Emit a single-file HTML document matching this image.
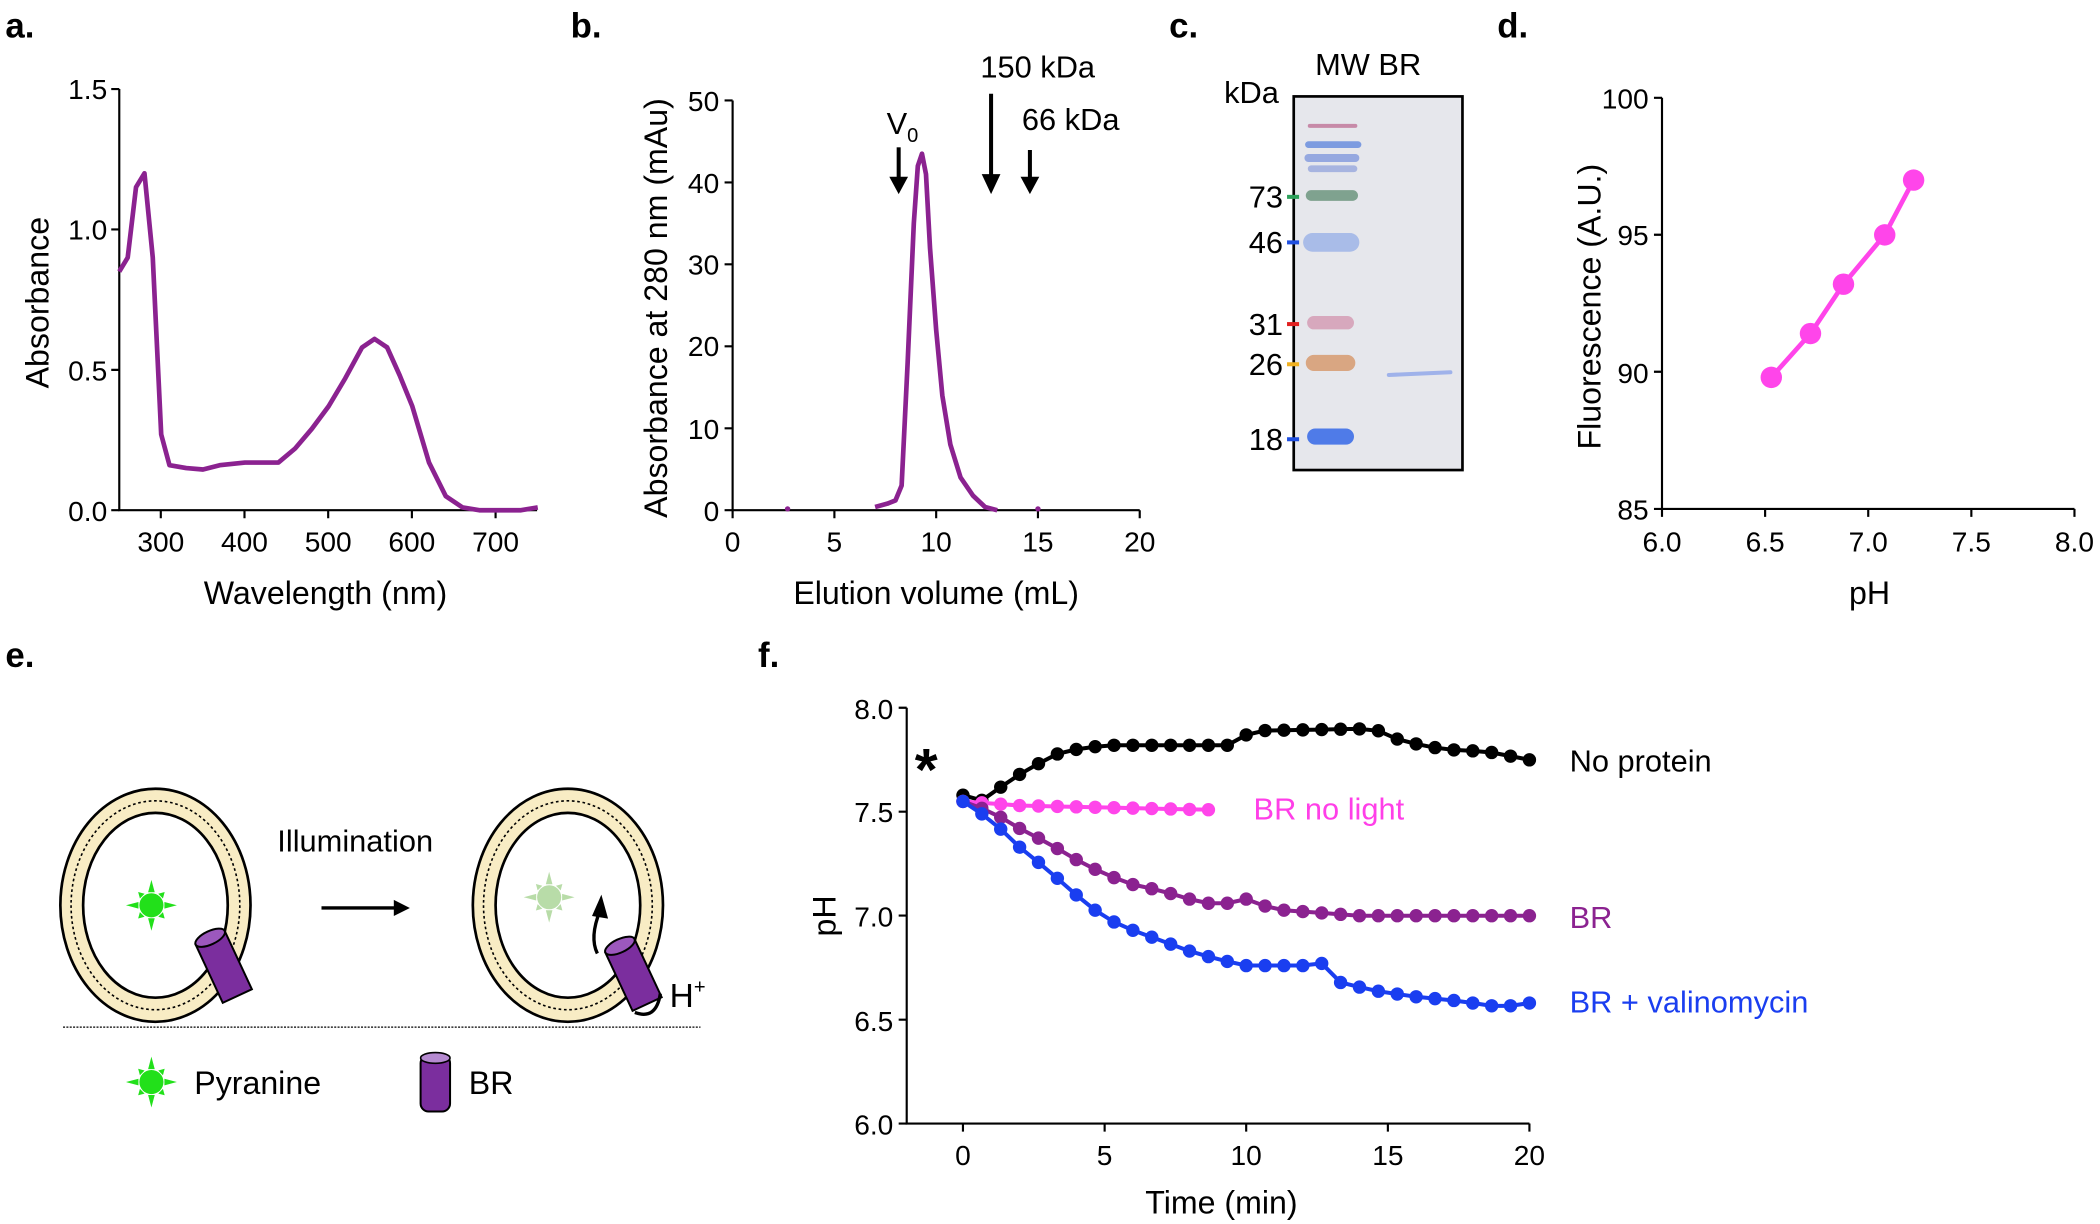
<!DOCTYPE html>
<html><head><meta charset="utf-8"><style>
html,body{margin:0;padding:0;background:#fff;}
svg{display:block;font-family:"Liberation Sans",Arial,sans-serif;}
</style></head><body>
<svg id="s" width="2100" height="1224" viewBox="0 0 1568 914" xmlns="http://www.w3.org/2000/svg">
<rect width="1568" height="914" fill="#fff"/>
<g font-weight="bold" font-size="26" fill="#000">
<text x="4" y="28">a.</text><text x="426" y="28">b.</text><text x="873" y="28">c.</text><text x="1118" y="28">d.</text>
<text x="4" y="498">e.</text><text x="566" y="498">f.</text>
</g>
<!-- panel a -->
<g stroke="#000" stroke-width="1.6" fill="none">
<path d="M89 66.5V381H401"/>
<path d="M83 66.5H89M83 171.3H89M83 276.2H89M83 381H89"/>
<path d="M120 381v6M182.5 381v6M245 381v6M307.5 381v6M370 381v6"/>
</g>
<g font-size="21" text-anchor="end">
<text x="80" y="74">1.5</text><text x="80" y="179">1.0</text><text x="80" y="284">0.5</text><text x="80" y="389">0.0</text>
</g>
<g font-size="21" text-anchor="middle">
<text x="120" y="412">300</text><text x="182.5" y="412">400</text><text x="245" y="412">500</text><text x="307.5" y="412">600</text><text x="370" y="412">700</text>
<text x="243" y="451" font-size="24">Wavelength (nm)</text>
<text transform="translate(36,226) rotate(-90)" font-size="24">Absorbance</text>
</g>
<path id="pa" fill="none" stroke="#8b2290" stroke-width="3.5" stroke-linejoin="round"/>
<!-- panel b -->
<g stroke="#000" stroke-width="1.6" fill="none">
<path d="M547 75V381H851"/>
<path d="M541 75H547M541 136.2H547M541 197.4H547M541 258.6H547M541 319.8H547M541 381H547"/>
<path d="M547 381v6M623 381v6M699 381v6M775 381v6M851 381v6"/>
</g>
<g font-size="21" text-anchor="end">
<text x="537" y="83">50</text><text x="537" y="144">40</text><text x="537" y="205">30</text><text x="537" y="266">20</text><text x="537" y="328">10</text><text x="537" y="389">0</text>
</g>
<g font-size="21" text-anchor="middle">
<text x="547" y="412">0</text><text x="623" y="412">5</text><text x="699" y="412">10</text><text x="775" y="412">15</text><text x="851" y="412">20</text>
<text x="699" y="451" font-size="24">Elution volume (mL)</text>
<text transform="translate(498,230) rotate(-90)" font-size="24">Absorbance at 280 nm (mAu)</text>
</g>
<path id="pb" fill="none" stroke="#8b2290" stroke-width="3.5" stroke-linejoin="round"/>
<g stroke="#000" stroke-width="3" fill="#000">
<path d="M671 110V134"/><path d="M664 132L671 145L678 132Z" stroke="none"/>
<path d="M740 70V132"/><path d="M733 130L740 145L747 130Z" stroke="none"/>
<path d="M769 112V134"/><path d="M762 132L769 145L776 132Z" stroke="none"/>
</g>
<g font-size="23">
<text x="662" y="100">V<tspan font-size="15" dy="6">0</tspan></text>
<text x="732" y="58">150 kDa</text>
<text x="763" y="97">66 kDa</text>
</g>
<!-- panel c -->
<rect x="966" y="72" width="126" height="279" fill="#e6e7ec" stroke="#000" stroke-width="2"/>
<g fill="none" stroke-linecap="round">
<path d="M978 94H1012" stroke="#c78aa8" stroke-width="3"/>
<path d="M977 108H1014" stroke="#7c9be0" stroke-width="5"/>
<path d="M977 118H1012" stroke="#95a8e0" stroke-width="6"/>
<path d="M979 126H1011" stroke="#a7b4e0" stroke-width="5"/>
<path d="M979 146H1010" stroke="#7fa28f" stroke-width="8"/>
<path d="M980 181H1008" stroke="#a9bce8" stroke-width="14"/>
<path d="M981 241H1006" stroke="#d7a8bd" stroke-width="10"/>
<path d="M981 271H1006" stroke="#d9a682" stroke-width="12"/>
<path d="M982 326H1005" stroke="#4f7be8" stroke-width="12"/>
<path d="M1037 280L1083 278" stroke="#9fb2ea" stroke-width="3"/>
</g>
<g stroke-width="3">
<path d="M961 147H970" stroke="#2ca05a"/><path d="M961 181H970" stroke="#1f4fe0"/>
<path d="M961 242H970" stroke="#e02020"/><path d="M961 272H970" stroke="#f0b020"/>
<path d="M961 328H970" stroke="#1f4fe0"/>
</g>
<g font-size="23" text-anchor="end">
<text x="958" y="155">73</text><text x="958" y="189">46</text><text x="958" y="250">31</text><text x="958" y="280">26</text><text x="958" y="336">18</text>
</g>
<text x="914" y="77" font-size="23">kDa</text>
<text x="982" y="56" font-size="23">MW BR</text>
<!-- panel d -->
<g stroke="#000" stroke-width="1.6" fill="none">
<path d="M1241 73V380H1549"/>
<path d="M1235 73H1241M1235 175.3H1241M1235 277.6H1241M1235 380H1241"/>
<path d="M1241 380v6M1318 380v6M1395 380v6M1472 380v6M1549 380v6"/>
</g>
<g font-size="21" text-anchor="end">
<text x="1231" y="81">100</text><text x="1231" y="183">95</text><text x="1231" y="286">90</text><text x="1231" y="388">85</text>
</g>
<g font-size="21" text-anchor="middle">
<text x="1241" y="412">6.0</text><text x="1318" y="412">6.5</text><text x="1395" y="412">7.0</text><text x="1472" y="412">7.5</text><text x="1549" y="412">8.0</text>
<text x="1396" y="451" font-size="24">pH</text>
<text transform="translate(1195,229) rotate(-90)" font-size="24">Fluorescence (A.U.)</text>
</g>
<g id="pd"></g>
<!-- panel e -->
<g id="rings"></g>
<path d="M240 678H298" stroke="#000" stroke-width="2.5"/><path d="M294 672L306 678L294 684Z"/>
<text x="207" y="636" font-size="23">Illumination</text>
<text x="500" y="752" font-size="25">H<tspan font-size="15" dy="-10">+</tspan></text>
<path d="M47 767H523" stroke="#000" stroke-width="1" stroke-dasharray="1.5,1"/>
<text x="145" y="817" font-size="24">Pyranine</text>
<text x="350" y="817" font-size="24">BR</text>
<!-- panel f -->
<g stroke="#000" stroke-width="1.6" fill="none">
<path d="M677 528.5V839H1142"/>
<path d="M671 528.5H677M671 606.1H677M671 683.7H677M671 761.4H677M671 839H677"/>
<path d="M719 839v6M824.8 839v6M930.5 839v6M1036.3 839v6M1142 839v6"/>
</g>
<g font-size="21" text-anchor="end">
<text x="667" y="537">8.0</text><text x="667" y="614">7.5</text><text x="667" y="692">7.0</text><text x="667" y="770">6.5</text><text x="667" y="847">6.0</text>
</g>
<g font-size="21" text-anchor="middle">
<text x="719" y="870">0</text><text x="824.8" y="870">5</text><text x="930.5" y="870">10</text><text x="1036.3" y="870">15</text><text x="1142" y="870">20</text>
<text x="912" y="906" font-size="24">Time (min)</text>
<text transform="translate(624,684) rotate(-90)" font-size="24">pH</text>
</g>
<text x="683" y="590" font-size="44" font-weight="bold">*</text>
<g font-size="23">
<text x="1172" y="576">No protein</text>
<text x="936" y="612" fill="#ff3fe8">BR no light</text>
<text x="1172" y="693" fill="#8b2290">BR</text>
<text x="1172" y="756" fill="#1a3ef0">BR + valinomycin</text>
</g>
<g id="pf"></g>
</svg>
<script>
var NS="http://www.w3.org/2000/svg",S=document.getElementById('s');
function el(t,a,p){var e=document.createElementNS(NS,t);for(var k in a)e.setAttribute(k,a[k]);(p||S).appendChild(e);return e;}
var A=[[250,.85],[260,.9],[270,1.15],[280,1.2],[290,.9],[300,.27],[310,.16],[330,.15],[350,.145],[370,.16],[400,.17],[440,.17],[460,.22],[480,.29],[500,.37],[520,.47],[540,.58],[555,.61],[570,.58],[585,.48],[600,.37],[620,.17],[640,.05],[660,.01],[680,0],[730,0],[750,.01]];
document.getElementById('pa').setAttribute('d','M'+A.map(function(p){return (89+(p[0]-250)*.625).toFixed(1)+' '+(381-p[1]*209.7).toFixed(1)}).join('L'));
var B=[[7,.4],[7.6,.8],[8,1.2],[8.3,3],[8.6,18],[8.9,35],[9.1,42],[9.3,43.5],[9.5,41],[9.7,32],[10,22],[10.3,14],[10.7,8],[11.2,4],[11.8,1.8],[12.4,.4],[13,0]];
document.getElementById('pb').setAttribute('d','M'+B.map(function(p){return (547+p[0]*15.2).toFixed(1)+' '+(381-p[1]*6.12).toFixed(1)}).join('L'));
el('circle',{cx:547+2.7*15.2,cy:380,r:2,fill:'#8b2290'});el('circle',{cx:547+15*15.2,cy:380,r:2,fill:'#8b2290'});
var D=[[6.53,89.8],[6.72,91.4],[6.88,93.2],[7.08,95.0],[7.22,97.0]];
var pd=document.getElementById('pd');
el('polyline',{points:D.map(function(p){return (1241+(p[0]-6)*154)+','+(380-(p[1]-85)*20.46)}).join(' '),fill:'none',stroke:'#ff45ea','stroke-width':3.5},pd);
D.forEach(function(p){el('circle',{cx:1241+(p[0]-6)*154,cy:380-(p[1]-85)*20.46,r:8,fill:'#ff45ea'},pd)});
function interp(K,t){for(var i=0;i<K.length-1;i++){if(t<=K[i+1][0]){var f=(t-K[i][0])/(K[i+1][0]-K[i][0]);return K[i][1]+f*(K[i+1][1]-K[i][1]);}}return K[K.length-1][1];}
function series(K,t0,n,col){var g=document.getElementById('pf'),pts=[];for(var i=0;i<=n;i++){var t=t0+i*(2/3);pts.push([719+t*21.15,839-(interp(K,t)-6)*155.2]);}
el('polyline',{points:pts.map(function(p){return p[0].toFixed(1)+','+p[1].toFixed(1)}).join(' '),fill:'none',stroke:col,'stroke-width':3},g);
pts.forEach(function(p){el('circle',{cx:p[0],cy:p[1],r:5,fill:col},g)});}
series([[0,7.58],[0.8,7.55],[1.5,7.64],[2.5,7.72],[3.5,7.79],[5,7.82],[9.5,7.82],[10.2,7.89],[14.5,7.9],[15.5,7.84],[17,7.8],[18.5,7.79],[20,7.75]],0,30,'#000');
series([[0,7.55],[2,7.53],[8.5,7.51]],0,13,'#ff45ea');
series([[0,7.55],[1,7.5],[2,7.42],[3,7.35],[4,7.27],[5,7.2],[6,7.15],[7,7.12],[8,7.08],[9,7.05],[10,7.08],[11,7.03],[12,7.02],[14,7.0],[20,7.0]],0,30,'#8b2290');
series([[0,7.55],[1,7.46],[2,7.33],[3,7.22],[4,7.1],[5,6.99],[6,6.93],[7,6.88],[8,6.83],[9,6.79],[10,6.76],[12,6.76],[12.6,6.78],[13.3,6.68],[14.5,6.64],[16,6.61],[17.5,6.59],[19,6.56],[20,6.58]],0,30,'#1a3ef0');
var R=document.getElementById('rings');
function ring(cx,cy){el('ellipse',{cx:cx,cy:cy,rx:71,ry:87,fill:'#f8ecc4',stroke:'#000','stroke-width':2},R);
el('ellipse',{cx:cx,cy:cy,rx:63,ry:78,fill:'none',stroke:'#000','stroke-width':1.2,'stroke-dasharray':'2,2'},R);
el('ellipse',{cx:cx,cy:cy,rx:54,ry:69,fill:'#fff',stroke:'#000','stroke-width':2},R);}
function star(cx,cy,col,s){el('circle',{cx:cx,cy:cy,r:9*s,fill:col},R);for(var i=0;i<8;i++){var a=i*Math.PI/4,d=i%2?14:19;
el('path',{d:'M'+(cx+Math.cos(a)*d*s)+' '+(cy+Math.sin(a)*d*s)+'L'+(cx+Math.cos(a+.25)*10*s)+' '+(cy+Math.sin(a+.25)*10*s)+'L'+(cx+Math.cos(a-.25)*10*s)+' '+(cy+Math.sin(a-.25)*10*s)+'Z',fill:col},R);}}
function cyl(cx,cy,rot){var g=el('g',{transform:'translate('+cx+','+cy+') rotate('+rot+')'},R);
el('rect',{x:-12,y:-24,width:24,height:48,fill:'#7b2e9e',stroke:'#000','stroke-width':1.5},g);
el('ellipse',{cx:0,cy:-24,rx:12,ry:5,fill:'#9c58bd',stroke:'#000','stroke-width':1.5},g);}
ring(116,676);ring(424,676);
star(113,676,'#22e01a',1);star(410,670,'#b8dca8',1);
cyl(167,722,-25);cyl(473,728,-25);
el('path',{d:'M493 742Q490 762 474 756',fill:'none',stroke:'#000','stroke-width':2.5},R);
el('path',{d:'M448 680Q440 700 446 712',fill:'none',stroke:'#000','stroke-width':2.5},R);
el('path',{d:'M442 684L449 668L454 686Z',fill:'#000'},R);
star(113,808,'#22e01a',1);
var g2=el('g',{},R);el('rect',{x:314,y:788,width:22,height:42,rx:6,fill:'#7b2e9e',stroke:'#000','stroke-width':1.5},g2);el('ellipse',{cx:325,cy:790,rx:11,ry:4,fill:'#b58ad0',stroke:'#000','stroke-width':1.2},g2);
</script>
</body></html>
